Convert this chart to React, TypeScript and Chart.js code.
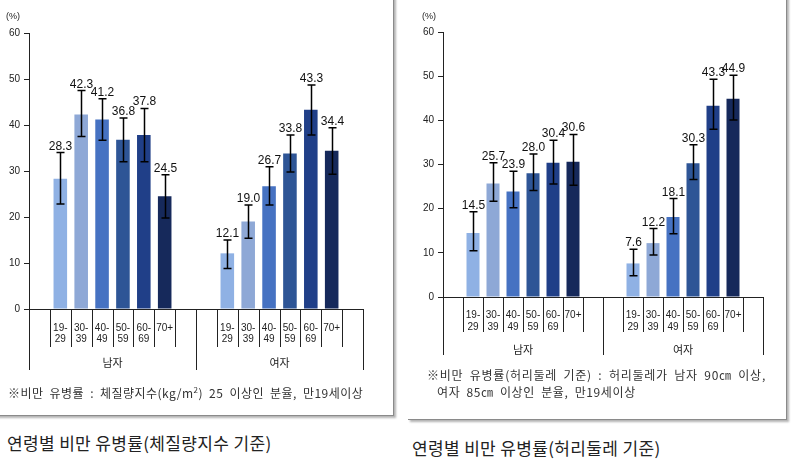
import React, { useEffect, useRef } from 'react';
import { Chart, registerables } from 'chart.js';

Chart.register(...registerables);

// ---------- data ----------
const ageLabels: (string | string[])[] = ['', ['19-', '29'], ['30-', '39'], ['40-', '49'], ['50-', '59'], ['60-', '69'], '70+', ''];
const groupLabels = ['남자', '여자'];
const yTickMin = 0;
const yTickMax = 60;
const yTickStep = 10;

const bmiMale = [28.3, 42.3, 41.2, 36.8, 37.8, 24.5];
const bmiMaleLow = [22.8, 37.5, 36.7, 32.0, 32.0, 19.8];
const bmiMaleHigh = [34.0, 47.5, 45.7, 41.5, 43.6, 29.2];
const bmiFemale = [12.1, 19.0, 26.7, 33.8, 43.3, 34.4];
const bmiFemaleLow = [8.8, 15.4, 22.6, 29.8, 37.8, 29.3];
const bmiFemaleHigh = [15.0, 22.6, 30.9, 37.8, 48.7, 39.4];

const waistMale = [14.5, 25.7, 23.9, 28.0, 30.4, 30.6];
const waistMaleLow = [10.5, 21.7, 20.2, 24.1, 25.6, 25.3];
const waistMaleHigh = [19.3, 30.4, 28.5, 32.4, 35.5, 36.8];
const waistFemale = [7.6, 12.2, 18.1, 30.3, 43.3, 44.9];
const waistFemaleLow = [4.8, 9.5, 14.3, 26.6, 38.0, 40.1];
const waistFemaleHigh = [10.8, 15.5, 22.3, 34.5, 49.3, 50.2];

const barColors = ['#8fb1e4', '#8ea8d6', '#4672c2', '#2e5596', '#203f88', '#16295b'];

// ---------- helpers ----------
const slots = (m: number[], f: number[]) => [null, ...m, null, null, ...f, null];
const slotColors = ['rgba(0,0,0,0)', ...barColors, 'rgba(0,0,0,0)', 'rgba(0,0,0,0)', ...barColors, 'rgba(0,0,0,0)'];
const FONT = '"Liberation Sans", Arial, sans-serif';
const KFONT = '"Noto Sans CJK KR", "Liberation Sans", sans-serif';

type PanelCfg = {
  width: number;
  height: number;
  yAxisWidth: number;
  padTop: number;
  padRight: number;
  xHeight: number;
  tickPad: number;
  lineHeight: number;
  ageSep: number;
  groupSep: number;
  groupY: number;
  pctX: number;
  pctY: number;
  values: (number | null)[];
  low: (number | null)[];
  high: (number | null)[];
};

function makeOverlay(cfg: PanelCfg) {
  return {
    id: 'overlay',
    afterDatasetsDraw(chart: any) {
      const ctx = chart.ctx;
      const y = chart.scales.y;
      const meta = chart.getDatasetMeta(0);
      ctx.save();
      meta.data.forEach((bar: any, i: number) => {
        const v = cfg.values[i];
        if (v == null) return;
        const yt = y.getPixelForValue(cfg.high[i] as number);
        const yb = y.getPixelForValue(cfg.low[i] as number);
        const x = Math.round(bar.x) + 0.5;
        ctx.strokeStyle = '#000';
        ctx.lineWidth = 1.5;
        ctx.beginPath();
        ctx.moveTo(x, yt);
        ctx.lineTo(x, yb);
        ctx.moveTo(x - 4, yt);
        ctx.lineTo(x + 4, yt);
        ctx.moveTo(x - 4, yb);
        ctx.lineTo(x + 4, yb);
        ctx.stroke();
        ctx.fillStyle = '#111';
        ctx.font = `12px ${FONT}`;
        ctx.textAlign = 'center';
        ctx.textBaseline = 'alphabetic';
        ctx.fillText(v.toFixed(1), x, yt - 3);
      });
      ctx.restore();
    },
    afterDraw(chart: any) {
      const ctx = chart.ctx;
      const xs = chart.scales.x;
      const bottom = chart.chartArea.bottom;
      const half = (xs.getPixelForValue(1) - xs.getPixelForValue(0)) / 2;
      const bnd = (i: number) => xs.getPixelForValue(i) - half;
      ctx.save();
      ctx.strokeStyle = '#222';
      ctx.lineWidth = 1;
      ctx.beginPath();
      for (let i = 0; i <= 16; i++) {
        const px = Math.round(bnd(i)) + 0.5;
        if (i === 0 || i === 8 || i === 16) {
          ctx.moveTo(px, bottom);
          ctx.lineTo(px, bottom + cfg.groupSep);
        } else if ((i >= 1 && i <= 7) || (i >= 9 && i <= 15)) {
          ctx.moveTo(px, bottom);
          ctx.lineTo(px, bottom + cfg.ageSep);
        }
      }
      ctx.stroke();
      ctx.fillStyle = '#222';
      ctx.font = `11px ${KFONT}`;
      ctx.textAlign = 'center';
      ctx.textBaseline = 'middle';
      ctx.fillText(groupLabels[0], bnd(4), bottom + cfg.groupY);
      ctx.fillText(groupLabels[1], bnd(12), bottom + cfg.groupY);
      ctx.font = `9px ${FONT}`;
      ctx.textAlign = 'left';
      ctx.fillText('(%)', cfg.pctX, cfg.pctY);
      ctx.restore();
    },
  };
}

function Panel({ cfg, style }: { cfg: PanelCfg; style: React.CSSProperties }) {
  const ref = useRef<HTMLCanvasElement>(null);
  useEffect(() => {
    if (!ref.current) return;
    const chart = new Chart(ref.current, {
      type: 'bar',
      data: {
        labels: [...ageLabels, ...ageLabels] as any,
        datasets: [
          {
            data: cfg.values as any,
            backgroundColor: slotColors,
            barPercentage: 0.65,
            categoryPercentage: 1,
          },
        ],
      },
      options: {
        responsive: false,
        animation: false,
        devicePixelRatio: 1,
        layout: { padding: { top: cfg.padTop, right: cfg.padRight, left: 0, bottom: 0 } },
        plugins: { legend: { display: false }, tooltip: { enabled: false } },
        scales: {
          x: {
            grid: { display: false, drawTicks: false },
            border: { color: '#222', width: 1 },
            ticks: {
              autoSkip: false,
              maxRotation: 0,
              minRotation: 0,
              padding: cfg.tickPad,
              color: '#222',
              font: { family: FONT, size: 10, lineHeight: cfg.lineHeight },
            },
            afterFit: (s: any) => {
              s.height = cfg.xHeight;
            },
          },
          y: {
            min: yTickMin,
            max: yTickMax,
            ticks: { stepSize: yTickStep, color: '#222', padding: 4, font: { family: FONT, size: 10 } },
            grid: { drawOnChartArea: false, tickLength: 5, color: '#222' },
            border: { color: '#222', width: 1 },
            afterFit: (s: any) => {
              s.width = cfg.yAxisWidth;
            },
          },
        },
      },
      plugins: [makeOverlay(cfg)],
    });
    return () => chart.destroy();
  }, []);
  return <canvas ref={ref} width={cfg.width} height={cfg.height} style={{ position: 'absolute', ...style }} />;
}

const leftCfg: PanelCfg = {
  width: 393,
  height: 414,
  yAxisWidth: 29,
  padTop: 33,
  padRight: 30,
  xHeight: 105,
  tickPad: 14,
  lineHeight: 1.1,
  ageSep: 38,
  groupSep: 61,
  groupY: 54,
  pctX: 6,
  pctY: 17,
  values: slots(bmiMale, bmiFemale),
  low: slots(bmiMaleLow, bmiFemaleLow),
  high: slots(bmiMaleHigh, bmiFemaleHigh),
};

const rightCfg: PanelCfg = {
  width: 385,
  height: 418,
  yAxisWidth: 43,
  padTop: 32,
  padRight: 22,
  xHeight: 121,
  tickPad: 12,
  lineHeight: 1.2,
  ageSep: 35,
  groupSep: 58,
  groupY: 53,
  pctX: 22,
  pctY: 17,
  values: slots(waistMale, waistFemale),
  low: slots(waistMaleLow, waistFemaleLow),
  high: slots(waistMaleHigh, waistFemaleHigh),
};

export default function App() {
  const note: React.CSSProperties = {
    position: 'absolute',
    fontFamily: KFONT,
    fontSize: 12,
    color: '#333',
    whiteSpace: 'nowrap',
    lineHeight: '17px',
    wordSpacing: 3,
  };
  const caption: React.CSSProperties = {
    position: 'absolute',
    fontFamily: KFONT,
    fontSize: 17,
    color: '#222',
    whiteSpace: 'nowrap',
    lineHeight: '20px',
    letterSpacing: 0.35,
  };
  return (
    <div style={{ position: 'absolute', left: 0, top: 0, width: 793, height: 462, background: '#fff', overflow: 'hidden' }}>
      <div
        style={{
          position: 'absolute',
          left: -4,
          top: -4,
          width: 397,
          height: 419,
          borderRight: '1px solid #8a8a8a',
          borderBottom: '1px solid #8a8a8a',
          boxShadow: '2px 2px 2px rgba(0,0,0,0.3)',
        }}
      />
      <div
        style={{
          position: 'absolute',
          left: 408,
          top: -4,
          width: 378,
          height: 423,
          borderRight: '1px solid #8a8a8a',
          borderBottom: '1px solid #8a8a8a',
          boxShadow: '2px 2px 2px rgba(0,0,0,0.3)',
        }}
      />
      <Panel cfg={leftCfg} style={{ left: 0, top: 0 }} />
      <Panel cfg={rightCfg} style={{ left: 400, top: 0 }} />
      <div style={{ ...note, left: 8, top: 384, letterSpacing: 0.45 }}>
        ※비만 유병률 : 체질량지수(kg/m<sup style={{ fontSize: 8, lineHeight: 0 }}>2</sup>) 25 이상인 분율, 만19세이상
      </div>
      <div style={{ ...note, left: 427, top: 366, letterSpacing: 0.75 }}>※비만 유병률(허리둘레 기준) : 허리둘레가 남자 90㎝ 이상,</div>
      <div style={{ ...note, left: 437, top: 383, letterSpacing: 0.6 }}>여자 85㎝ 이상인 분율, 만19세이상</div>
      <div style={{ ...caption, left: 7, top: 433 }}>연령별 비만 유병률(체질량지수 기준)</div>
      <div style={{ ...caption, left: 412, top: 438 }}>연령별 비만 유병률(허리둘레 기준)</div>
    </div>
  );
}
